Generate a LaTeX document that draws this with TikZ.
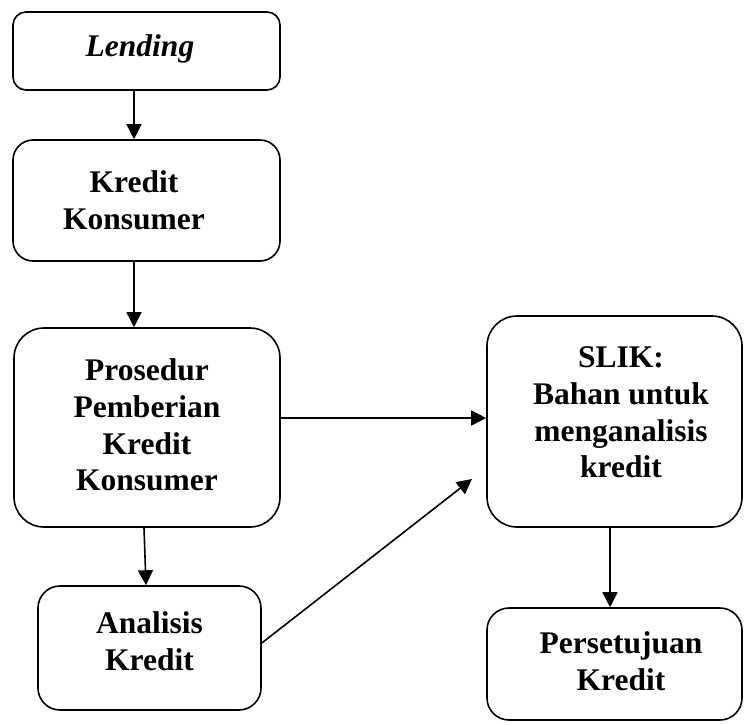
\documentclass[tikz,border=0pt]{standalone}
\usepackage{fontspec}
\setmainfont{Liberation Serif}
\usetikzlibrary{arrows.meta}
\begin{document}
\begin{tikzpicture}[x=1pt,y=-1pt,
  box/.style={draw=black, line width=1.6pt, inner sep=0pt},
  txt/.style={align=center, inner sep=0pt,
    font=\fontsize{31.5}{36.7}\selectfont\bfseries},
  conn/.style={line width=1.6pt, -{Triangle[length=15pt,width=15pt]}}]
\useasboundingbox (0,0) rectangle (744,724);
\node[box, rounded corners=13pt, minimum width=267pt, minimum height=78pt] (lend) at (146.5,51) {};
\node[box, rounded corners=20pt, minimum width=267pt, minimum height=121pt] (kk) at (146.5,200.5) {};
\node[box, rounded corners=30pt, minimum width=266pt, minimum height=199pt] (pro) at (147,427.5) {};
\node[box, rounded corners=22pt, minimum width=223pt, minimum height=124pt] (ana) at (149.5,648) {};
\node[box, rounded corners=30pt, minimum width=255pt, minimum height=211pt] (slik) at (614.5,421.5) {};
\node[box, rounded corners=22pt, minimum width=255pt, minimum height=112pt] (per) at (614.5,664) {};
\node[txt] (lendt) at (140,49) {\itshape Lending};
\node[txt] (kkt) at (134,200) {Kredit\\Konsumer};
\node[txt] (prot) at (147,425) {Prosedur\\Pemberian\\Kredit\\Konsumer};
\node[txt] (anat) at (149.5,641) {Analisis\\Kredit};
\node[txt] (slikt) at (621,412.5) {SLIK:\\Bahan untuk\\menganalisis\\kredit};
\node[txt] (pert) at (621,661) {Persetujuan\\Kredit};
\coordinate (cx) at (134,0);
\coordinate (hy) at (0,418);
\coordinate (dy) at (0,643);
\coordinate (dend) at (472,479);
\coordinate (sx) at (610,0);
\draw[conn] (lend.south -| cx) -- (kk.north -| cx);
\draw[conn] (kk.south -| cx) -- (pro.north -| cx);
\draw[conn] ([xshift=-3pt]pro.south) -- ([xshift=-3.5pt]ana.north);
\draw[conn] (pro.east |- hy) -- (slik.west |- hy);
\draw[conn] (ana.east |- dy) -- (dend);
\draw[conn] (slik.south -| sx) -- (per.north -| sx);
\end{tikzpicture}
\end{document}
